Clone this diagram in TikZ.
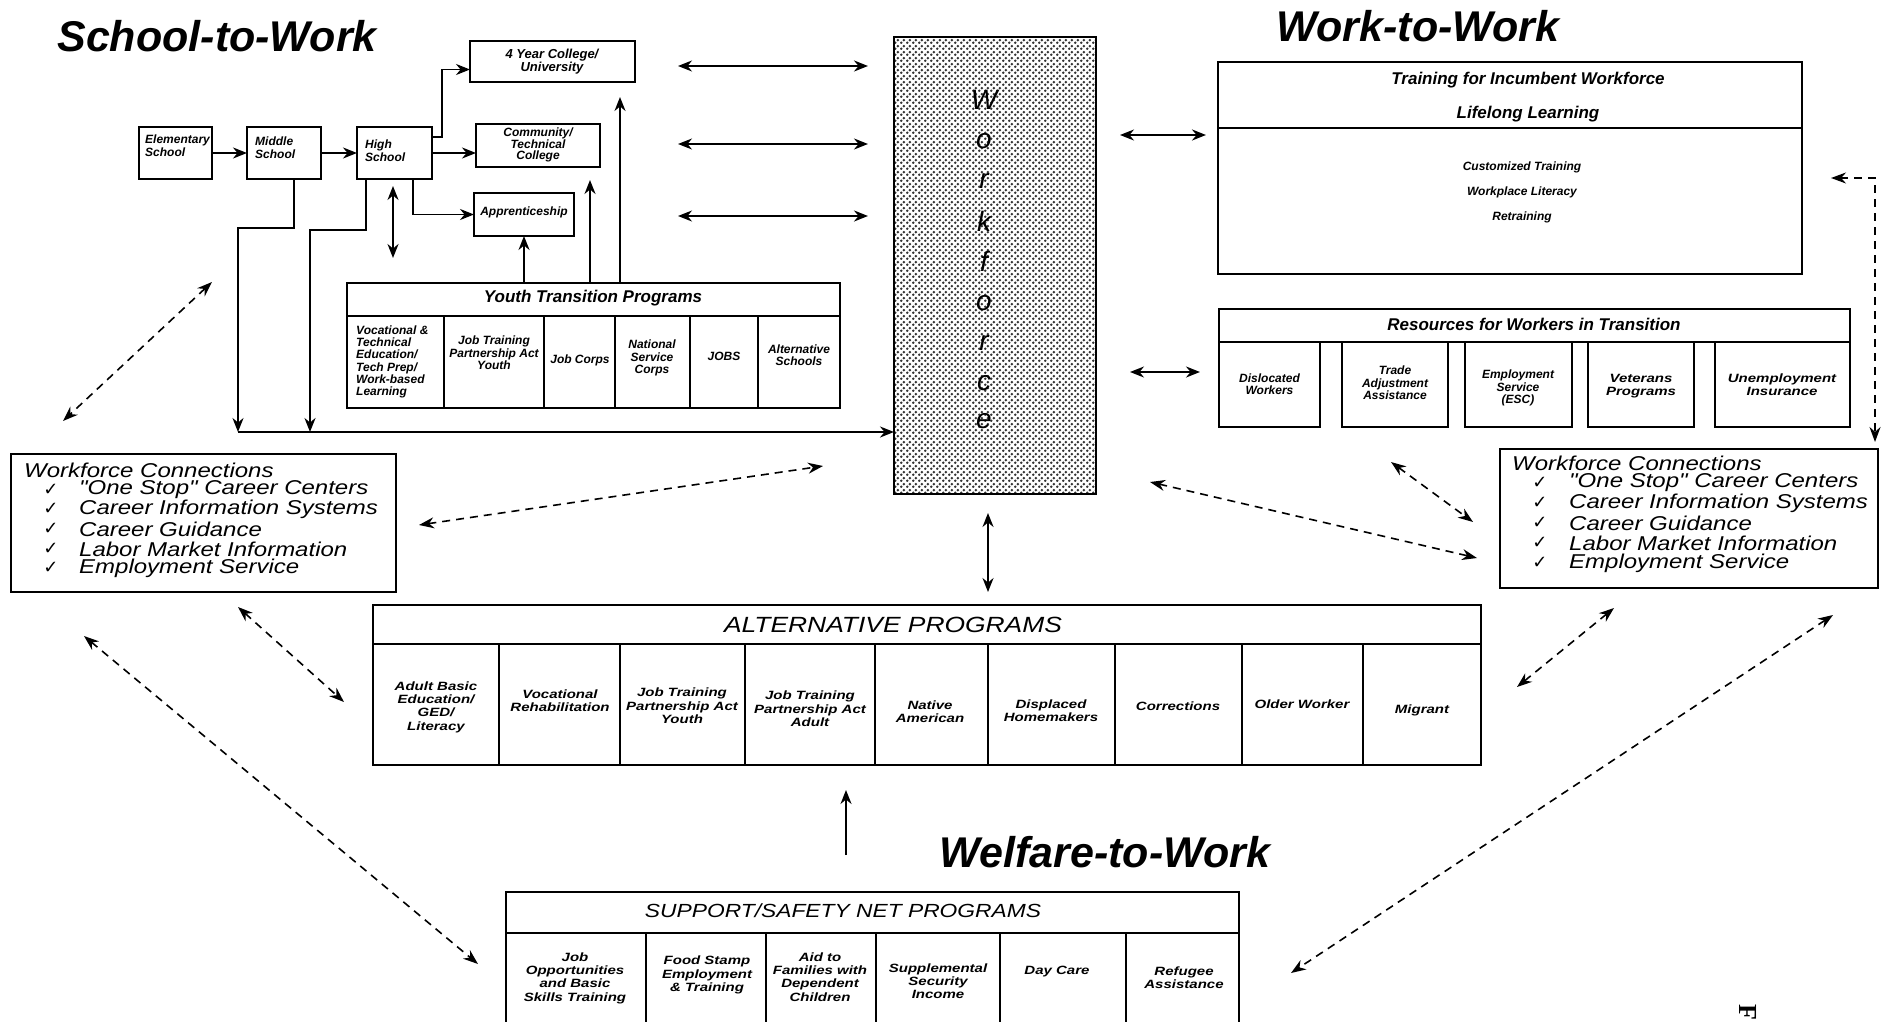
\documentclass[tikz,border=0pt]{standalone}
\usepackage{fontspec}
\setmainfont{Liberation Sans}
\newfontfamily\wideit[FakeStretch=1.2]{Liberation Sans}
\newfontfamily\widebf[FakeStretch=1.25]{Liberation Sans}
\newfontfamily\symfont{DejaVu Sans}
\newfontfamily\serifF{Liberation Serif}
\usetikzlibrary{arrows.meta,patterns,calc}
\pgfdeclarepatternformonly{wfdots}{\pgfpointorigin}{\pgfqpoint{6pt}{6pt}}{\pgfqpoint{6pt}{6pt}}{\pgfpathcircle{\pgfqpoint{1.5pt}{1.5pt}}{1.6pt}\pgfpathcircle{\pgfqpoint{4.5pt}{4.5pt}}{1.6pt}\pgfusepath{fill}}
\newcommand{\rbox}[5]{\node[bx, minimum width={#3-#1}, minimum height={#4-#2}] (#5) at ({(#1+#3)/2},{(#2+#4)/2}) {};}
\tikzset{
 bx/.style={draw, line width=1.6pt, fill=white, inner sep=0pt, outer sep=0pt},
 ttl/.style={font=\fontsize{43}{43}\selectfont\bfseries\itshape, inner sep=0pt},
 hdr/.style={font=\fontsize{17}{18}\selectfont\bfseries\itshape, inner sep=0pt},
 sm/.style={font=\fontsize{12}{12.3}\selectfont\bfseries\itshape, align=center, inner sep=0pt},
 smw/.style={font=\widebf\fontsize{12}{13.3}\selectfont\bfseries\itshape, align=center, inner sep=0pt},
 bigw/.style={font=\wideit\fontsize{22}{22}\selectfont\itshape, inner sep=0pt},
 wc/.style={font=\wideit\fontsize{20}{20}\selectfont\itshape, anchor=west, inner sep=0pt},
 chk/.style={font=\symfont\fontsize{18}{18}\selectfont, inner sep=0pt},
 wfl/.style={font=\fontsize{28}{28}\selectfont\itshape, inner sep=0pt},
 arr/.style={line width=1.8pt, -{Stealth[length=14pt,width=11pt]}},
 darr/.style={line width=1.8pt, {Stealth[length=14pt,width=11pt]}-{Stealth[length=14pt,width=11pt]}},
 dsh/.style={line width=1.6pt, dash pattern=on 8pt off 6pt, {Stealth[length=15pt,width=11pt]}-{Stealth[length=15pt,width=11pt]}},
}
\begin{document}
\begin{tikzpicture}[x=1pt,y=-1pt]
\useasboundingbox (0,0) rectangle (1881,1022);
\fill[white] (0,0) rectangle (1881,1022);

% titles
\node[ttl] (tsw) at (217,36) {School-to-Work};
\node[ttl] (tww) at (1418,26) {Work-to-Work};
\node[ttl] (twf) at (1105,852) {Welfare-to-Work};

% ---------- School-to-Work ----------
\rbox{139}{127}{212}{179}{elem}
\rbox{247}{127}{321}{179}{mid}
\rbox{357}{127}{432}{179}{high}
\rbox{470}{41}{635}{82}{col4}
\rbox{476}{124}{600}{167}{comm}
\rbox{474}{193}{574}{236}{appr}
\node[sm,align=left,anchor=north west] at (145,135) {Elementary\\School};
\node[sm,align=left,anchor=north west] at (255,137) {Middle\\School};
\node[sm,align=left,anchor=north west] at (365,140) {High\\School};
\node[sm,font=\fontsize{13}{13}\selectfont\bfseries\itshape] at (552,62) {4 Year College/\\University};
\node[sm,font=\fontsize{12}{11.5}\selectfont\bfseries\itshape] at (538,145) {Community/\\Technical\\College};
\node[sm] at (524,212) {Apprenticeship};

\draw[arr] (elem.east) -- (mid.west);
\draw[arr] (mid.east) -- (high.west);
\draw[arr] (high.east) -- (high.east -| comm.west);
\draw[arr] ($(high.north east)+(0,10)$) -- ++(10,0) |- ($(col4.west)+(0,8)$);
\draw[arr] ($(high.south east)+(-19,0)$) |- (appr.west);
\coordinate (hv1) at (393,186);
\coordinate (hv2) at (393,258);
\draw[darr] (hv1) -- (hv2);

\coordinate (hlA) at (238,432);
\coordinate (hlB) at (310,432);
\draw[arr] ($(mid.south west)+(47,0)$) |- ($(hlA)+(0,-204)$) -- (hlA);
\draw[arr] ($(high.south west)+(9,0)$) |- ($(hlB)+(0,-202)$) -- (hlB);

% Youth Transition Programs
\rbox{347}{283}{840}{316}{ythdr}
\rbox{347}{316}{444}{408}{yc1}
\rbox{444}{316}{544}{408}{yc2}
\rbox{544}{316}{615}{408}{yc3}
\rbox{615}{316}{690}{408}{yc4}
\rbox{690}{316}{758}{408}{yc5}
\rbox{758}{316}{840}{408}{yc6}
\node[hdr] at (593,298) {Youth Transition Programs};
\node[sm,align=left,anchor=west] at (356,362) {Vocational \&\\Technical\\Education/\\Tech Prep/\\Work-based\\Learning};
\node[sm] at (494,353) {Job Training\\Partnership Act\\Youth};
\node[sm] at (580,360) {Job Corps};
\node[sm] at (652,358) {National\\Service\\Corps};
\node[sm] at (724,356) {JOBS};
\node[sm] at (799,355) {Alternative\\Schools};

\draw[arr] (appr.south |- ythdr.north) -- (appr.south);
\coordinate (tcom) at (590,180);
\coordinate (tcol) at (620,97);
\draw[arr] (tcom |- ythdr.north) -- (tcom);
\draw[arr] (tcol |- ythdr.north) -- (tcol);

% ---------- Workforce ----------
\node[draw, line width=1.4pt, pattern=wfdots, pattern color=black!80, minimum width=202, minimum height=457, inner sep=0pt, outer sep=0pt] (wf) at (995,265.5) {};
\foreach \yy/\ll in {100/W,141/o,181/r,221/k,261/f,303/o,343/r,383/c,421/e}
  \node[wfl] at (984,\yy) {\ll};

\draw[arr] (hlA) -- (hlA -| wf.west);

\coordinate (a1l) at (678,66);  \coordinate (a1r) at (868,66);
\coordinate (a2l) at (678,144); \coordinate (a2r) at (868,144);
\coordinate (a3l) at (678,216); \coordinate (a3r) at (868,216);
\draw[darr] (a1l) -- (a1r);
\draw[darr] (a2l) -- (a2r);
\draw[darr] (a3l) -- (a3r);

% ---------- Work-to-Work ----------
\rbox{1218}{62}{1802}{128}{trh}
\rbox{1218}{128}{1802}{274}{trb}
\node[hdr] at (1528,80) {Training for Incumbent Workforce};
\node[hdr] at (1528,114) {Lifelong Learning};
\node[sm] at (1522,167) {Customized Training};
\node[sm] at (1522,192) {Workplace Literacy};
\node[sm] at (1522,217) {Retraining};
\coordinate (b1l) at (1120,135); \coordinate (b1r) at (1206,135);
\draw[darr] (b1l) -- (b1r);

\rbox{1219}{309}{1850}{342}{rsh}
\rbox{1219}{342}{1320}{427}{rs1}
\rbox{1342}{342}{1448}{427}{rs2}
\rbox{1465}{342}{1572}{427}{rs3}
\rbox{1588}{342}{1694}{427}{rs4}
\rbox{1715}{342}{1850}{427}{rs5}
\node[hdr] at (1534,324) {Resources for Workers in Transition};
\node[sm] at (rs1) {Dislocated\\Workers};
\node[sm] at (1395,383) {Trade\\Adjustment\\Assistance};
\node[sm] at (1518,388) {Employment\\Service\\(ESC)};
\node[smw] at (1641,386) {Veterans\\Programs};
\node[smw] at (1782,385) {Unemployment\\Insurance};
\coordinate (b2l) at (1130,372); \coordinate (b2r) at (1200,372);
\draw[darr] (b2l) -- (b2r);

% ---------- Workforce Connections ----------
\rbox{11}{454}{396}{592}{wcL}
\node[wc] at (24,470) {Workforce Connections};
\foreach \yy/\tt in {490/{"One Stop" Career Centers},509/{Career Information Systems},529/{Career Guidance},549/{Labor Market Information},568/{Employment Service}}{
  \node[chk] at (51,\yy) {✓};
  \node[wc] at (79,\yy) {\tt};
}
\rbox{1500}{449}{1878}{588}{wcR}
\node[wc] at (1512,463) {Workforce Connections};
\foreach \yy/\tt in {483/{"One Stop" Career Centers},503/{Career Information Systems},523/{Career Guidance},543/{Labor Market Information},563/{Employment Service}}{
  \node[chk] at (1540,\yy) {✓};
  \node[wc] at (1569,\yy) {\tt};
}

% ---------- Alternative programs ----------
\rbox{373}{605}{1481}{644}{alh}
\rbox{373}{644}{499}{765}{al1}
\rbox{499}{644}{620}{765}{al2}
\rbox{620}{644}{745}{765}{al3}
\rbox{745}{644}{875}{765}{al4}
\rbox{875}{644}{988}{765}{al5}
\rbox{988}{644}{1115}{765}{al6}
\rbox{1115}{644}{1242}{765}{al7}
\rbox{1242}{644}{1363}{765}{al8}
\rbox{1363}{644}{1481}{765}{al9}
\node[bigw] at (893,625) {ALTERNATIVE PROGRAMS};
\node[smw] at (436,707) {Adult Basic\\Education/\\GED/\\Literacy};
\node[smw] at (560,701) {Vocational\\Rehabilitation};
\node[smw] at (682,706) {Job Training\\Partnership Act\\Youth};
\node[smw] at (810,709) {Job Training\\Partnership Act\\Adult};
\node[smw] at (930,712) {Native\\American};
\node[smw] at (1051,711) {Displaced\\Homemakers};
\node[smw] at (1178,706) {Corrections};
\node[smw] at (1302,704) {Older Worker};
\node[smw] at (1422,710) {Migrant};
\coordinate (vwt) at (988,513); \coordinate (vwb) at (988,592);
\draw[darr] (vwt) -- (vwb);

% ---------- Support / safety net ----------
\rbox{506}{892}{1239}{933}{suh}
\rbox{506}{933}{646}{1040}{su1}
\rbox{646}{933}{766}{1040}{su2}
\rbox{766}{933}{876}{1040}{su3}
\rbox{876}{933}{1000}{1040}{su4}
\rbox{1000}{933}{1126}{1040}{su5}
\rbox{1126}{933}{1239}{1040}{su6}
\node[bigw,font=\wideit\fontsize{19}{19}\selectfont\itshape] at (843,911) {SUPPORT/SAFETY NET PROGRAMS};
\node[smw] at (575,978) {Job\\Opportunities\\and Basic\\Skills Training};
\node[smw] at (707,975) {Food Stamp\\Employment\\\& Training};
\node[smw] at (820,977) {Aid to\\Families with\\Dependent\\Children};
\node[smw] at (938,981) {Supplemental\\Security\\Income};
\node[smw] at (1057,972) {Day Care};
\node[smw] at (1184,978) {Refugee\\Assistance};
\coordinate (upb) at (846,855); \coordinate (upt) at (846,790);
\draw[arr] (upb) -- (upt);

% ---------- dashed connectors ----------
\coordinate (d1a) at (212,282);  \coordinate (d1b) at (63,421);
\coordinate (d2a) at (419,525);  \coordinate (d2b) at (823,466);
\coordinate (d3a) at (238,607);  \coordinate (d3b) at (344,702);
\coordinate (d4a) at (84,636);   \coordinate (d4b) at (478,964);
\coordinate (d5a) at (1150,482); \coordinate (d5b) at (1477,558);
\coordinate (d6a) at (1391,462); \coordinate (d6b) at (1473,522);
\coordinate (d7a) at (1614,608); \coordinate (d7b) at (1517,687);
\coordinate (d8a) at (1833,615); \coordinate (d8b) at (1291,973);
\coordinate (d9a) at (1831,178); \coordinate (d9c) at (1875,178); \coordinate (d9b) at (1875,442);
\draw[dsh] (d1a) -- (d1b);
\draw[dsh] (d2a) -- (d2b);
\draw[dsh] (d3a) -- (d3b);
\draw[dsh] (d4a) -- (d4b);
\draw[dsh] (d5a) -- (d5b);
\draw[dsh] (d6a) -- (d6b);
\draw[dsh] (d7a) -- (d7b);
\draw[dsh] (d8a) -- (d8b);
\draw[dsh] (d9a) -- (d9c) -- (d9b);

\node[font=\serifF\bfseries\fontsize{26}{26}\selectfont, rotate=-90] (fig) at (1748,1012) {F};
\end{tikzpicture}
\end{document}
